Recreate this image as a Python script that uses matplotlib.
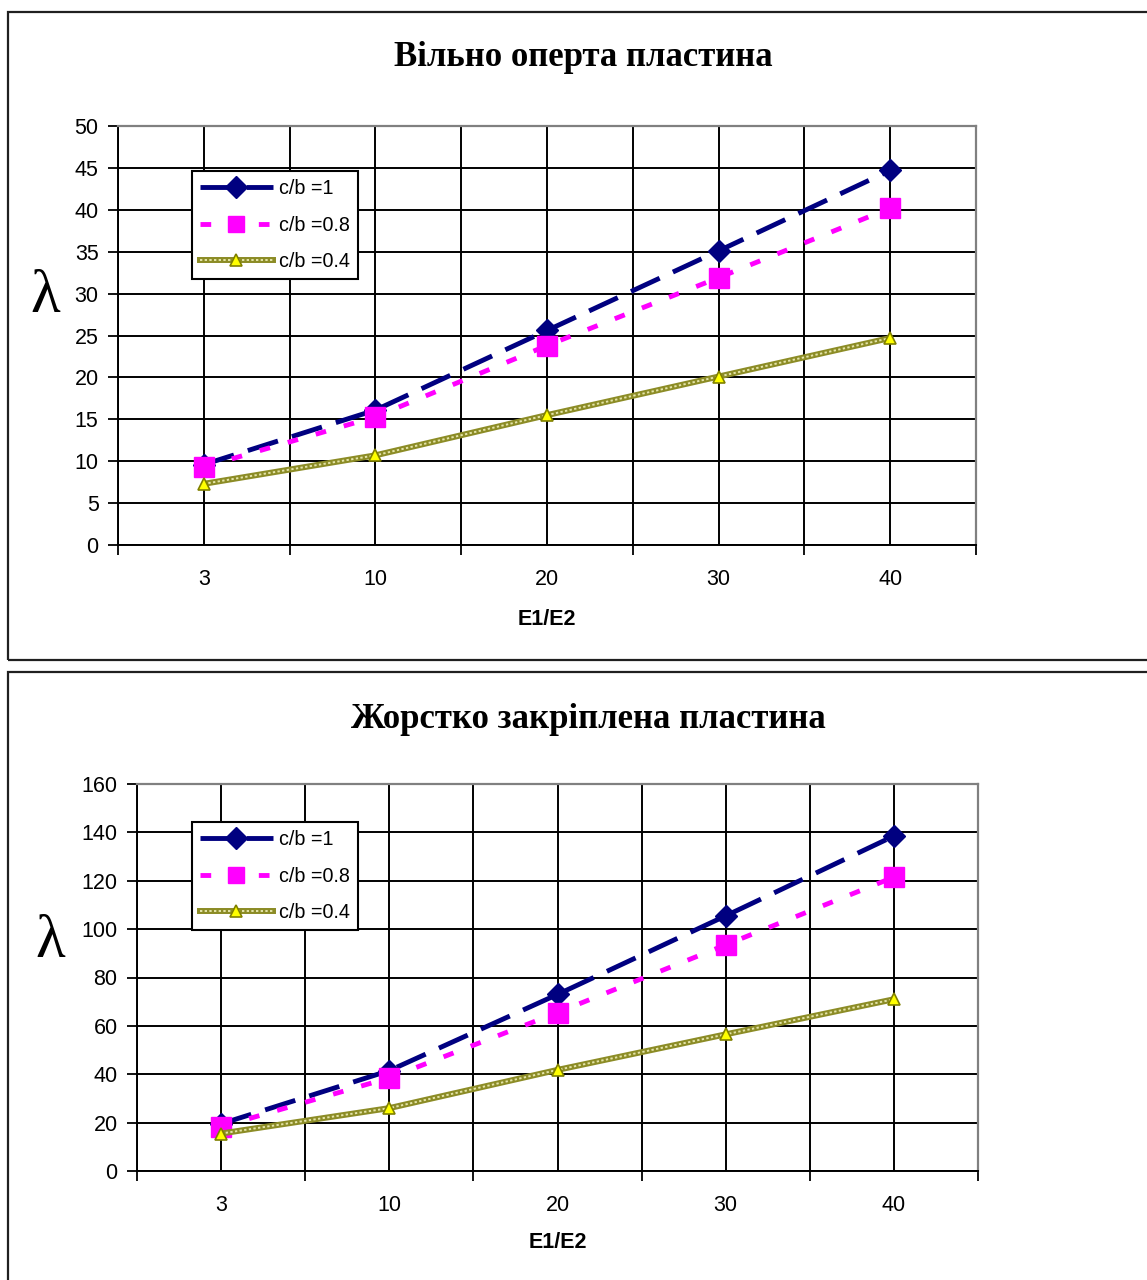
import matplotlib
matplotlib.use('Agg')
import matplotlib.pyplot as plt
from matplotlib.patches import Rectangle
from matplotlib.ticker import FixedLocator, NullFormatter

W, H = 1147, 1280

x_labels = ['3', '10', '20', '30', '40']
series_labels = ['c/b =1', 'c/b =0.8', 'c/b =0.4']

# Вільно оперта пластина
top_cb1 = [9.6, 16.1, 25.6, 35.1, 44.7]
top_cb08 = [9.3, 15.3, 23.8, 31.9, 40.2]
top_cb04 = [7.3, 10.7, 15.5, 20.1, 24.7]

# Жорстко закріплена пластина
bot_cb1 = [19.5, 41.5, 73.0, 105.5, 138.5]
bot_cb08 = [18.3, 38.5, 65.5, 93.5, 121.5]
bot_cb04 = [15.5, 26.0, 41.8, 56.5, 71.0]

NAVY = '#000080'
MAGENTA = '#ff00ff'
OLIVE = '#8c8c26'

plt.rcParams['font.family'] = ['Liberation Sans', 'DejaVu Sans']


def px_rect(x0, y0, x1, y1):
    return [x0 / W, 1 - y1 / H, (x1 - x0) / W, (y1 - y0) / H]


def draw_panel(fig, rect, title, title_xy, ymax, ystep, s1, s2, s3, leg_xy, lam_xy, xlab_y):
    ax = fig.add_axes(px_rect(*rect))
    x = list(range(len(x_labels)))

    ax.plot(x, s1, color=NAVY, lw=3.5, linestyle=(0, (6.5, 3)),
            marker='D', markersize=11, markerfacecolor=NAVY, markeredgecolor=NAVY,
            dash_capstyle='butt', clip_on=False, zorder=3)
    ax.plot(x, s2, color=MAGENTA, lw=3.5, linestyle=(0, (2.2, 3.8)),
            marker='s', markersize=15, markerfacecolor=MAGENTA, markeredgecolor=MAGENTA,
            dash_capstyle='butt', clip_on=False, zorder=3)
    ax.plot(x, s3, color=OLIVE, lw=4.3, solid_capstyle='butt', zorder=3)
    ax.plot(x, s3, color='#e4e4a8', lw=1.4, linestyle=(0, (1.2, 1.2)), zorder=3)
    ax.plot(x, s3, linestyle='none', marker='^', markersize=9,
            markerfacecolor='#ffff00', markeredgecolor='#808000', markeredgewidth=1.2,
            clip_on=False, zorder=4)

    # маркери легенди
    h1, = ax.plot([], [], color=NAVY, lw=3.5, linestyle=(0, (6.5, 3)), marker='D',
                  markersize=11, markerfacecolor=NAVY, markeredgecolor=NAVY)
    h2, = ax.plot([], [], color=MAGENTA, lw=3.5, linestyle=(0, (2.2, 3.8)), marker='s',
                  markersize=12, markerfacecolor=MAGENTA, markeredgecolor=MAGENTA)
    h3a, = ax.plot([], [], color=OLIVE, lw=4.3)
    h3b, = ax.plot([], [], color='#e4e4a8', lw=1.4, linestyle=(0, (1.2, 1.2)))
    h3c, = ax.plot([], [], linestyle='none', marker='^', markersize=9,
                   markerfacecolor='#ffff00', markeredgecolor='#808000', markeredgewidth=1.2)
    leg = ax.legend([h1, h2, (h3a, h3b, h3c)], series_labels, loc='upper left',
                    bbox_to_anchor=(leg_xy[0] / W, 1 - leg_xy[1] / H),
                    bbox_transform=fig.transFigure, borderaxespad=0, fontsize=14.2,
                    handlelength=3.7, handletextpad=0.3, labelspacing=0.9,
                    borderpad=0.4, fancybox=False, framealpha=1, numpoints=1)
    leg.get_frame().set_edgecolor('black')
    leg.get_frame().set_linewidth(1.5)

    ax.set_xlim(-0.5, len(x_labels) - 0.5)
    ax.set_ylim(0, ymax)
    ax.set_xticks(x)
    ax.set_xticklabels(x_labels)
    ax.xaxis.set_minor_locator(FixedLocator([i - 0.5 for i in range(len(x_labels) + 1)]))
    ax.xaxis.set_minor_formatter(NullFormatter())
    ax.set_yticks(range(0, ymax + 1, ystep))

    ax.tick_params(axis='x', which='major', length=0, pad=17, labelsize=15.5)
    ax.tick_params(axis='x', which='minor', length=7, width=1.3, direction='out', color='black')
    ax.tick_params(axis='y', length=7, width=1.3, direction='out', pad=7, labelsize=15.5)

    ax.grid(True, which='major', axis='both', color='black', lw=1.4)
    ax.grid(True, which='minor', axis='x', color='black', lw=1.4)

    ax.spines['left'].set_color('black')
    ax.spines['bottom'].set_color('black')
    ax.spines['left'].set_linewidth(1.4)
    ax.spines['bottom'].set_linewidth(1.4)
    ax.spines['top'].set_color('#808080')
    ax.spines['right'].set_color('#808080')
    ax.spines['top'].set_linewidth(1.6)
    ax.spines['right'].set_linewidth(1.6)

    ax.set_xlabel('E1/E2', fontsize=15.5, fontweight='bold')
    ax.xaxis.set_label_coords(0.5, xlab_y)
    ax.xaxis.label.set_va('center')

    fig.text(title_xy[0] / W, 1 - title_xy[1] / H, title, ha='center', va='center',
             fontsize=25, fontweight='bold', family='Liberation Serif')
    fig.text(lam_xy[0] / W, 1 - lam_xy[1] / H, 'λ', ha='center', va='center',
             fontsize=44, family='Liberation Serif')
    return ax


fig = plt.figure(figsize=(W / 100, H / 100), dpi=100)

# рамки
fig.add_artist(Rectangle((8 / W, 1 - 660 / H), 1300 / W, 648 / H, fill=False,
                         lw=1.6, edgecolor='#202020', transform=fig.transFigure))
fig.add_artist(Rectangle((8 / W, -0.1), 1300 / W, 1 - 672 / H + 0.1, fill=False,
                         lw=1.6, edgecolor='#202020', transform=fig.transFigure))

draw_panel(fig, (118, 126, 976, 545), 'Вільно оперта пластина', (583, 57),
           50, 5, top_cb1, top_cb08, top_cb04, (192, 171), (45, 297), -0.177)
draw_panel(fig, (137, 784, 978, 1171), 'Жорстко закріплена пластина', (588, 720),
           160, 20, bot_cb1, bot_cb08, bot_cb04, (192, 822), (50, 942), -0.186)

fig.savefig('out.png', dpi=100)
